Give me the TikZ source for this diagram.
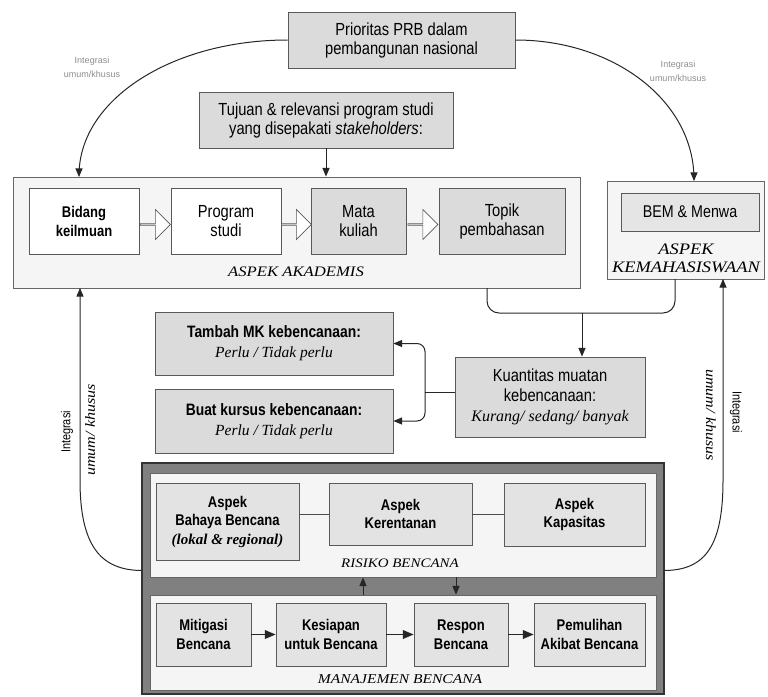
\documentclass[tikz,border=0pt]{standalone}
\usepackage{fontspec}
\setmainfont{Liberation Sans}
\newfontfamily\narrowfont{Liberation Sans}[FakeStretch = 0.84]
\newfontfamily\timesfont{Liberation Serif}
\newfontfamily\capsfont{Liberation Serif}[FakeStretch = 1.15]
\usetikzlibrary{arrows}
\usetikzlibrary{shapes}

\begin{document}
\begin{tikzpicture}[x = 1pt, y = -1pt, >=triangle 45]
	\tikzstyle{boxStyle} = [shape = rectangle, draw = black!65, fill = black!14, line width = 0.9pt, align = center, inner sep = 1pt, font = \narrowfont\fontsize{17.5}{19}\selectfont]
	\tikzstyle{whiteStyle} = [boxStyle, fill = white]
	\tikzstyle{panelStyle} = [shape = rectangle, draw = black!60, fill = black!4, line width = 0.9pt]
	\tikzstyle{riskStyle} = [boxStyle, fill = black!11, font = \narrowfont\bfseries\fontsize{15.5}{18.5}\selectfont]
	\tikzstyle{capsStyle} = [align = center, inner sep = 1pt, font = \capsfont\itshape\fontsize{14.5}{17}\selectfont]
	\tikzstyle{fatArrowStyle} = [single arrow, draw = black!65, line width = 0.7pt, fill = white, minimum height = 30pt, minimum width = 30pt, single arrow head extend = 7pt, inner sep = 0pt]
	\tikzstyle{noteStyle} = [align = center, inner sep = 0pt, text = black!45, font = \fontsize{9}{14}\selectfont]
	\tikzstyle{sideStyle} = [inner sep = 1pt, font = \narrowfont\fontsize{13}{13}\selectfont]
	\tikzstyle{sideItStyle} = [inner sep = 1pt, font = \capsfont\itshape\fontsize{14}{13}\selectfont]
	\tikzstyle{arrowStyle} = [->, line width = 1pt, black!85]
	\useasboundingbox (0,0) rectangle (768,696);
	% top
	\node[boxStyle, minimum width = 227pt, minimum height = 56pt] (prio) at (401.5,40) {Prioritas PRB dalam\\pembangunan nasional};
	\node[boxStyle, minimum width = 254pt, minimum height = 56pt] (tujuan) at (326,120) {Tujuan \& relevansi program studi\\yang disepakati \textit{stakeholders}:};
	\node[noteStyle] (noteL) at (92,67) {Integrasi\\umum/khusus};
	\node[noteStyle] (noteR) at (678,71) {Integrasi\\umum/khusus};
	% aspek akademis
	\node[panelStyle, minimum width = 567pt, minimum height = 111pt] (akad) at (296.5,232.5) {};
	\node[whiteStyle, minimum width = 110pt, minimum height = 66pt, font = \narrowfont\bfseries\fontsize{15.5}{19}\selectfont] (bidang) at (84,221.5) {Bidang\\keilmuan};
	\node[whiteStyle, minimum width = 110pt, minimum height = 66pt] (prog) at (226,221.5) {Program\\studi};
	\node[boxStyle, minimum width = 95pt, minimum height = 66pt] (mata) at (358.5,221.5) {Mata\\kuliah};
	\node[boxStyle, minimum width = 126pt, minimum height = 66pt] (topik) at (502,221.5) {Topik\\pembahasan};
	\node[capsStyle] (akadLabel) at (296,272) {ASPEK AKADEMIS};
	\foreach \a/\b in {bidang/prog, prog/mata, mata/topik}
		\path (\a.east) -- (\b.west) node[midway, yshift = -3pt, fatArrowStyle] (arr\a) {};
	% kemahasiswaan
	\node[panelStyle, minimum width = 157pt, minimum height = 98pt] (bem) at (685.5,230) {};
	\node[boxStyle, fill = black!10, minimum width = 138pt, minimum height = 38pt, font = \narrowfont\fontsize{17}{18}\selectfont] (bemInner) at (690,212) {BEM \& Menwa};
	\node[capsStyle, font = \capsfont\itshape\fontsize{16}{18}\selectfont] (bemLabel) at (686,258) {ASPEK\\KEMAHASISWAAN};
	\coordinate (akadTopL) at (79,177);
	\coordinate (bemTop) at (694,181);
	\draw[arrowStyle] (prio.west) .. controls (173,40) and (79,99) .. (akadTopL);
	\draw[arrowStyle] (prio.east) .. controls (614,40) and (694,101) .. (bemTop);
	\draw[arrowStyle] (tujuan.south) -- (tujuan.south |- akad.north);
	% kuantitas
	\node[boxStyle, minimum width = 190pt, minimum height = 80pt, font = \narrowfont\fontsize{17.5}{20}\selectfont] (kuant) at (550,397) {Kuantitas muatan\\kebencanaan:\\{\timesfont\itshape\fontsize{16}{20}\selectfont Kurang/ sedang/ banyak}};
	\node[boxStyle, minimum width = 238pt, minimum height = 63pt, font = \narrowfont\fontsize{16.5}{20}\selectfont] (tambah) at (274,343.5) {\textbf{Tambah MK kebencanaan:}\\{\timesfont\itshape\fontsize{15.5}{20}\selectfont Perlu / Tidak perlu}};
	\node[boxStyle, minimum width = 238pt, minimum height = 64pt, font = \narrowfont\fontsize{16.5}{20}\selectfont] (buat) at (274,421) {\textbf{Buat kursus kebencanaan:}\\{\timesfont\itshape\fontsize{15.5}{20}\selectfont Perlu / Tidak perlu}};
	\coordinate (akadOut) at (487,288);
	\coordinate (bemOut) at (675,279);
	\coordinate (joinMid) at (582,313);
	\draw[line width = 1pt, black!85, rounded corners = 12pt] (akadOut) |- (joinMid) -| (bemOut);
	\draw[arrowStyle] (joinMid) -- (joinMid |- kuant.north);
	\coordinate (split) at (425,392);
	\draw[line width = 1pt, black!85] (kuant.west |- split) -- (split);
	\draw[arrowStyle, rounded corners = 8pt] (split) |- (tambah.east);
	\draw[arrowStyle, rounded corners = 8pt] (split) |- (buat.east);
	% risiko dan manajemen bencana
	\node[shape = rectangle, draw = black!80, fill = black!50, line width = 1.5pt, minimum width = 522pt, minimum height = 231pt] (dark) at (403,578.5) {};
	\node[panelStyle, minimum width = 506pt, minimum height = 104pt] (risk) at (403,525) {};
	\node[riskStyle, minimum width = 143pt, minimum height = 77pt] (bahaya) at (227.5,521.5) {Aspek\\Bahaya Bencana\\{\timesfont\itshape\fontsize{15}{18.5}\selectfont (lokal \& regional)}};
	\node[riskStyle, minimum width = 143pt, minimum height = 62pt] (kerent) at (400.5,514) {Aspek\\Kerentanan};
	\node[riskStyle, minimum width = 141pt, minimum height = 63pt] (kapas) at (574.5,514.5) {Aspek\\Kapasitas};
	\draw[line width = 0.8pt, black!70] (bahaya.east |- kerent.west) -- (kerent.west);
	\draw[line width = 0.8pt, black!70] (kerent.east) -- (kapas.west |- kerent.east);
	\node[capsStyle, font = \capsfont\itshape\fontsize{13}{16}\selectfont] (riskLabel) at (400,563) {RISIKO BENCANA};
	\node[panelStyle, minimum width = 506pt, minimum height = 95pt] (mgmt) at (403,642.5) {};
	\node[riskStyle, minimum width = 95pt, minimum height = 63pt] (mitig) at (203.5,634.5) {Mitigasi\\Bencana};
	\node[riskStyle, minimum width = 110pt, minimum height = 63pt] (kesiap) at (331,634.5) {Kesiapan\\untuk Bencana};
	\node[riskStyle, minimum width = 94pt, minimum height = 63pt] (respon) at (461,634.5) {Respon\\Bencana};
	\node[riskStyle, minimum width = 111pt, minimum height = 63pt] (pemul) at (589.5,634.5) {Pemulihan\\Akibat Bencana};
	\foreach \a/\b in {mitig/kesiap, kesiap/respon, respon/pemul}
		\draw[arrowStyle, line width = 1.5pt] (\a.east) -- (\b.west);
	\node[capsStyle, font = \capsfont\itshape\fontsize{13.5}{16}\selectfont] (mgmtLabel) at (400,679) {MANAJEMEN BENCANA};
	\draw[arrowStyle] ([xshift = -40pt]mgmt.north) -- ([xshift = -40pt]risk.south);
	\draw[arrowStyle] ([xshift = 53pt]risk.south) -- ([xshift = 53pt]mgmt.north);
	% integrasi
	\coordinate (akadBotL) at (80,288);
	\coordinate (bemBotR) at (723,279);
	\draw[arrowStyle] ([yshift = 8pt]dark.west) .. controls (100,570) and (80,545) .. (80,480) -- (akadBotL);
	\draw[arrowStyle] ([yshift = 8pt]dark.east) .. controls (706,570) and (723,545) .. (723,480) -- (bemBotR);
	\node[sideStyle, rotate = 90] (intL) at (67,432) {Integrasi};
	\node[sideItStyle, rotate = 90] (umumL) at (90,430) {umum/ khusus};
	\node[sideStyle, rotate = -90] (intR) at (736,412) {Integrasi};
	\node[sideItStyle, rotate = -90] (umumR) at (711,415) {umum/ khusus};
\end{tikzpicture}
\end{document}
